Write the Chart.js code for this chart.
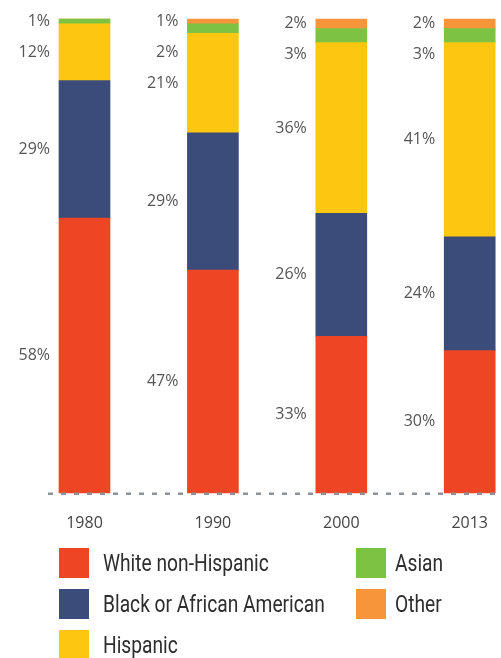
<!DOCTYPE html>
<html>
<head>
<meta charset="utf-8">
<script src="https://cdn.jsdelivr.net/npm/chart.js@4/dist/chart.umd.min.js"></script>
<style>
  body { margin: 0; background: #fff; width: 501px; height: 658px; overflow: hidden; position: relative; }
  #chart { position: absolute; left: 0; top: 0; }
  .legend { position: absolute; left: 59px; top: 548px; display: grid; grid-template-rows: repeat(3, 41px);
            grid-auto-flow: column; grid-template-columns: 297px 120px; }
  .legend-item { display: flex; align-items: center; height: 30px; font-family: "Roboto", sans-serif;
                 font-size: 24px; color: #2e2e2e; white-space: nowrap; }
  .legend-item span.box { width: 30px; height: 30px; margin-right: 14px; flex: none; }
  .legend-item.col2 span.box { margin-right: 9px; }
  .legend-item span.txt { display: inline-block; transform: scaleX(0.8); transform-origin: left center; }
</style>
</head>
<body>
<canvas id="chart" width="501" height="553"></canvas>
<div class="legend" id="legend"></div>
<script>
// Datos (porcentajes por año)
const years = ['1980', '1990', '2000', '2013'];
const white = [58, 47, 33, 30];
const black = [29, 29, 26, 24];
const hispanic = [12, 21, 36, 41];
const asian = [1, 2, 3, 3];
const other = [0, 1, 2, 2];

const seriesNames = ['White non-Hispanic', 'Black or African American', 'Hispanic', 'Asian', 'Other'];
const seriesColors = ['#EE4624', '#3C4C7A', '#FDC711', '#7DC243', '#F6953A'];

// Etiquetas de porcentaje a la izquierda de cada barra
const percentLabels = {
    id: 'percentLabels',
    afterDatasetsDraw(chart) {
        const ctx = chart.ctx;
        ctx.save();
        ctx.font = '16px "Open Sans", sans-serif';
        ctx.fillStyle = '#555';
        ctx.textAlign = 'right';
        ctx.textBaseline = 'middle';
        const n = chart.data.labels.length;
        for (let i = 0; i < n; i++) {
            let prevY = -Infinity;
            for (let d = chart.data.datasets.length - 1; d >= 0; d--) {
                const value = chart.data.datasets[d].data[i];
                if (!value) continue;
                const el = chart.getDatasetMeta(d).data[i];
                let y = (el.y + el.base) / 2;
                y = Math.max(y, prevY + 31, 17);
                prevY = y;
                ctx.fillText(value + '%', el.x - el.width / 2 - 9, y);
            }
        }
        // línea discontinua de base
        const yBase = chart.scales.y.getPixelForValue(0) + 1;
        ctx.strokeStyle = '#8e9398';
        ctx.lineWidth = 2.5;
        ctx.setLineDash([5, 8]);
        ctx.beginPath();
        ctx.moveTo(48, yBase);
        ctx.lineTo(chart.width, yBase);
        ctx.stroke();
        ctx.restore();
    }
};

const datasets = [white, black, hispanic, asian, other].map((values, i) => ({
    label: seriesNames[i],
    data: values,
    backgroundColor: seriesColors[i],
    borderWidth: 0,
    barThickness: 51,
    clip: false
}));

const chart = new Chart(document.getElementById('chart'), {
    type: 'bar',
    data: { labels: years, datasets: datasets },
    options: {
        responsive: false,
        animation: false,
        layout: { padding: { left: 84.5, right: 30.5, top: 19, bottom: 7 } },
        plugins: { legend: { display: false }, tooltip: { enabled: false } },
        scales: {
            x: {
                stacked: true,
                offset: false,
                grid: { display: false },
                border: { display: false },
                ticks: { color: '#444', padding: 13, font: { family: '"Open Sans", sans-serif', size: 16 }, maxRotation: 0 }
            },
            y: { stacked: true, min: 0, max: 100, display: false }
        }
    },
    plugins: [percentLabels]
});

// Leyenda en HTML
const legend = document.getElementById('legend');
chart.data.datasets.forEach((ds, i) => {
    const item = document.createElement('div');
    item.className = 'legend-item' + (i >= 3 ? ' col2' : '');
    item.innerHTML = '<span class="box" style="background:' + ds.backgroundColor + '"></span><span class="txt">' + ds.label + '</span>';
    legend.appendChild(item);
});
</script>
</body>
</html>
